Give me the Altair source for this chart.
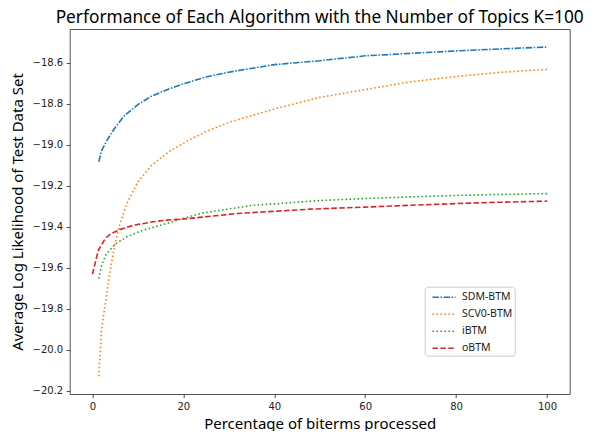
import altair as alt
import pandas as pd

algos = ["SDM-BTM", "SCV0-BTM", "iBTM", "oBTM"]

sdm_x = [1.4, 2, 3, 5, 7, 10, 13, 17, 20, 25, 30, 40, 50, 60, 70, 80, 90, 100]
sdm_y = [-19.083, -19.03, -18.985, -18.915, -18.858, -18.803, -18.762, -18.725, -18.702,
         -18.668, -18.645, -18.608, -18.589, -18.565, -18.553, -18.541, -18.531, -18.522]

scv_x = [1.4, 2, 3, 4, 5, 6, 7.5, 10, 13, 17, 21, 25, 30, 40, 50, 60, 70, 80, 90, 100]
scv_y = [-20.13, -19.90, -19.75, -19.60, -19.48, -19.39, -19.29, -19.18, -19.10, -19.03,
         -18.98, -18.935, -18.89, -18.825, -18.768, -18.73, -18.692, -18.666, -18.645, -18.631]

ibtm_x = [1.4, 2, 3, 5, 7.5, 11, 15, 19, 24, 35, 50, 60, 70, 80, 90, 100]
ibtm_y = [-19.653, -19.59, -19.535, -19.485, -19.45, -19.418, -19.393, -19.366, -19.334,
          -19.296, -19.272, -19.262, -19.254, -19.247, -19.242, -19.238]

obtm_x = [0, 1.3, 2.8, 4, 6, 9, 13, 16, 21, 26, 32, 48, 60, 70, 80, 90, 100]
obtm_y = [-19.632, -19.515, -19.458, -19.435, -19.414, -19.393, -19.377, -19.368, -19.36,
          -19.349, -19.335, -19.314, -19.304, -19.295, -19.287, -19.28, -19.275]

x_ticks = [0, 20, 40, 60, 80, 100]
y_ticks = [-20.2, -20.0, -19.8, -19.6, -19.4, -19.2, -19.0, -18.8, -18.6]

colors = ["#1f77b4", "#ff7f0e", "#2ca02c", "#d62728"]
dashes = [[6.4, 1.6, 1.5, 1.6], [1.5, 2.5], [1.5, 2.5], [5.5, 2.4]]

rows = []
for name, xs, ys in [("SDM-BTM", sdm_x, sdm_y), ("SCV0-BTM", scv_x, scv_y),
                     ("iBTM", ibtm_x, ibtm_y), ("oBTM", obtm_x, obtm_y)]:
    for i, (x, y) in enumerate(zip(xs, ys)):
        rows.append({"algo": name, "x": x, "y": y, "order": i})
df = pd.DataFrame(rows)

tfont = "Noto Sans"
lfont = "DejaVu Sans"

leg = alt.Legend(title=None, orient="none", legendX=355, legendY=257.7)

chart = alt.Chart(df).mark_line(strokeWidth=1.6, strokeCap="butt").encode(
    x=alt.X("x:Q", scale=alt.Scale(domain=[-5, 105], nice=False, zero=False),
            axis=alt.Axis(values=x_ticks, title="Percentage of biterms processed", grid=False,
                          titleBaseline="alphabetic", titleY=34)),
    y=alt.Y("y:Q", scale=alt.Scale(domain=[-20.217, -18.434], nice=False, zero=False),
            axis=alt.Axis(values=y_ticks, title="Average Log Likelihood of Test Data Set", grid=False,
                          titleBaseline="alphabetic", titleX=-47, titleAngle=270,
                          labelExpr="replace(format(datum.value, '.1f'), '-', '\u2212')")),
    color=alt.Color("algo:N", scale=alt.Scale(domain=algos, range=colors), legend=leg),
    strokeDash=alt.StrokeDash("algo:N", scale=alt.Scale(domain=algos, range=dashes), legend=leg),
    order="order:Q",
    detail="algo:N",
).properties(
    width=500,
    height=365,
    title=alt.Title("Performance of Each Algorithm with the Number of Topics K=100",
                    font=tfont, fontSize=17.3, fontWeight="normal", anchor="middle", offset=2.5,
                    color="black"),
    autosize=alt.AutoSizeParams(type="none"),
    padding={"left": 61.7, "top": 21, "right": 17.3, "bottom": 37},
).configure_view(
    stroke="#555555", strokeWidth=1
).configure_axis(
    domain=False, tickColor="#222222", tickSize=3.5, tickWidth=0.8,
    labelFont=lfont, labelFontSize=10, labelColor="#222222", labelPadding=3.5,
    titleFont=tfont, titleFontSize=15, titleFontWeight="normal", titleColor="black",
).configure_legend(
    labelFont=tfont, labelFontSize=10.5, labelColor="#222222", padding=1.5,
    fillColor="white", strokeColor="#cccccc", cornerRadius=3,
    symbolType="M-1.4,0H1.4", symbolSize=272, symbolStrokeWidth=1.5, rowPadding=2,
    symbolOffset=8.8, labelOffset=9,
)

chart.save("out.html", embed_options={"renderer": "svg", "actions": False})
